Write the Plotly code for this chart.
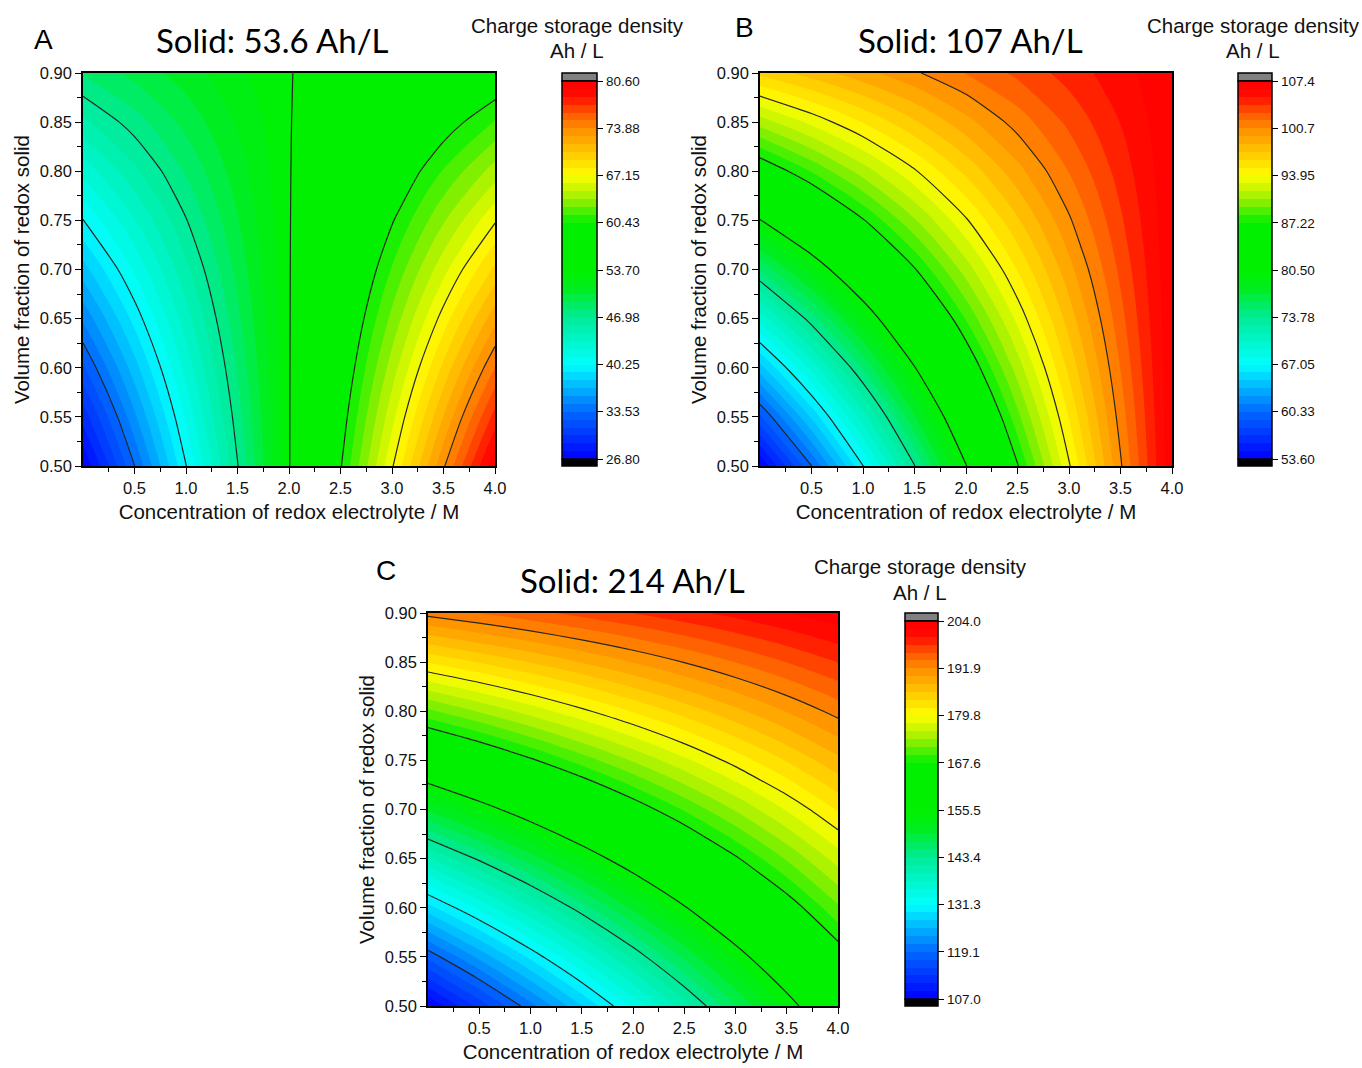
import plotly.graph_objects as go

# ---------------- data ----------------
conc = [0.0, 0.5, 1.0, 1.5, 2.0, 2.5, 3.0, 3.5, 4.0]          # M
vol_frac = [0.50, 0.55, 0.60, 0.65, 0.70, 0.75, 0.80, 0.85, 0.90]

# rows follow vol_frac, columns follow conc  (Ah/L)
density_A = [
    [26.80, 33.50, 40.20, 46.90, 53.60, 60.30, 67.00, 73.70, 80.40],
    [29.48, 35.51, 41.54, 47.57, 53.60, 59.63, 65.66, 71.69, 77.72],
    [32.16, 37.52, 42.88, 48.24, 53.60, 58.96, 64.32, 69.68, 75.04],
    [34.84, 39.53, 44.22, 48.91, 53.60, 58.29, 62.98, 67.67, 72.36],
    [37.52, 41.54, 45.56, 49.58, 53.60, 57.62, 61.64, 65.66, 69.68],
    [40.20, 43.55, 46.90, 50.25, 53.60, 56.95, 60.30, 63.65, 67.00],
    [42.88, 45.56, 48.24, 50.92, 53.60, 56.28, 58.96, 61.64, 64.32],
    [45.56, 47.57, 49.58, 51.59, 53.60, 55.61, 57.62, 59.63, 61.64],
    [48.24, 49.58, 50.92, 52.26, 53.60, 54.94, 56.28, 57.62, 58.96],
]
density_B = [
    [53.60, 60.30, 67.00, 73.70, 80.40, 87.10, 93.80, 100.50, 107.20],
    [58.96, 64.99, 71.02, 77.05, 83.08, 89.11, 95.14, 101.17, 107.20],
    [64.32, 69.68, 75.04, 80.40, 85.76, 91.12, 96.48, 101.84, 107.20],
    [69.68, 74.37, 79.06, 83.75, 88.44, 93.13, 97.82, 102.51, 107.20],
    [75.04, 79.06, 83.08, 87.10, 91.12, 95.14, 99.16, 103.18, 107.20],
    [80.40, 83.75, 87.10, 90.45, 93.80, 97.15, 100.50, 103.85, 107.20],
    [85.76, 88.44, 91.12, 93.80, 96.48, 99.16, 101.84, 104.52, 107.20],
    [91.12, 93.13, 95.14, 97.15, 99.16, 101.17, 103.18, 105.19, 107.20],
    [96.48, 97.82, 99.16, 100.50, 101.84, 103.18, 104.52, 105.86, 107.20],
]
density_C = [
    [107.00, 113.70, 120.40, 127.10, 133.80, 140.50, 147.20, 153.90, 160.60],
    [117.70, 123.73, 129.76, 135.79, 141.82, 147.85, 153.88, 159.91, 165.94],
    [128.40, 133.76, 139.12, 144.48, 149.84, 155.20, 160.56, 165.92, 171.28],
    [139.10, 143.79, 148.48, 153.17, 157.86, 162.55, 167.24, 171.93, 176.62],
    [149.80, 153.82, 157.84, 161.86, 165.88, 169.90, 173.92, 177.94, 181.96],
    [160.50, 163.85, 167.20, 170.55, 173.90, 177.25, 180.60, 183.95, 187.30],
    [171.20, 173.88, 176.56, 179.24, 181.92, 184.60, 187.28, 189.96, 192.64],
    [181.90, 183.91, 185.92, 187.93, 189.94, 191.95, 193.96, 195.97, 197.98],
    [192.60, 193.94, 195.28, 196.62, 197.96, 199.30, 200.64, 201.98, 203.32],
]

cbar_ticks_A = [26.80, 33.53, 40.25, 46.98, 53.70, 60.43, 67.15, 73.88, 80.60]
cbar_labels_A = ["26.80", "33.53", "40.25", "46.98", "53.70", "60.43", "67.15", "73.88", "80.60"]
cbar_ticks_B = [53.60, 60.33, 67.05, 73.78, 80.50, 87.22, 93.95, 100.7, 107.4]
cbar_labels_B = ["53.60", "60.33", "67.05", "73.78", "80.50", "87.22", "93.95", "100.7", "107.4"]
cbar_ticks_C = [107.0, 119.1, 131.3, 143.4, 155.5, 167.6, 179.8, 191.9, 204.0]
cbar_labels_C = ["107.0", "119.1", "131.3", "143.4", "155.5", "167.6", "179.8", "191.9", "204.0"]

x_ticks = [0.5, 1.0, 1.5, 2.0, 2.5, 3.0, 3.5, 4.0]
x_ticklabels = ["0.5", "1.0", "1.5", "2.0", "2.5", "3.0", "3.5", "4.0"]
x_minor = [0.25, 0.75, 1.25, 1.75, 2.25, 2.75, 3.25, 3.75]
y_ticks = [0.50, 0.55, 0.60, 0.65, 0.70, 0.75, 0.80, 0.85, 0.90]
y_ticklabels = ["0.50", "0.55", "0.60", "0.65", "0.70", "0.75", "0.80", "0.85", "0.90"]
y_minor = [0.525, 0.575, 0.625, 0.675, 0.725, 0.775, 0.825, 0.875]

panel_letters = ["A", "B", "C"]
panel_titles = ["Solid: 53.6 Ah/L", "Solid: 107 Ah/L", "Solid: 214 Ah/L"]
cbar_title_lines = ["Charge storage density", "Ah / L"]
x_title = "Concentration of redox electrolyte / M"
y_title = "Volume fraction of redox solid"

# ---------------- layout geometry (pixels) ----------------
W, H = 1362, 1068
def fx(px): return px / W
def fy(py): return 1 - py / H

panels = [
    dict(box=(83, 73, 495, 466), cb=(562, 597), cbt=577, letter=(43, 40), title=(272, 40), cbty=(25, 51)),
    dict(box=(760, 73, 1172, 466), cb=(1238, 1272), cbt=1253, letter=(744, 28), title=(970, 40), cbty=(25, 51)),
    dict(box=(428, 613, 838, 1006), cb=(905, 938), cbt=920, letter=(386, 570), title=(632, 580), cbty=(566, 592)),
]

rainbow = [
    [0.000, "rgb(0,0,255)"],
    [0.125, "rgb(0,105,255)"],
    [0.250, "rgb(0,255,255)"],
    [0.375, "rgb(0,235,150)"],
    [0.450, "rgb(0,238,30)"],
    [0.500, "rgb(0,240,0)"],
    [0.625, "rgb(0,240,0)"],
    [0.690, "rgb(160,240,0)"],
    [0.750, "rgb(255,255,0)"],
    [0.875, "rgb(255,140,0)"],
    [0.920, "rgb(255,80,0)"],
    [0.960, "rgb(255,12,0)"],
    [1.000, "rgb(255,0,0)"],
]

datasets = [density_A, density_B, density_C]
ticksets = [(cbar_ticks_A, cbar_labels_A), (cbar_ticks_B, cbar_labels_B), (cbar_ticks_C, cbar_labels_C)]

fig = go.Figure()
FONT = "Liberation Sans, Arial, sans-serif"
shapes = []
annotations = []

for i, (p, z, (tv, tt)) in enumerate(zip(panels, datasets, ticksets)):
    sfx = "" if i == 0 else str(i + 1)
    l, t, r, b = p["box"]
    zmin, zmax = tv[0], tv[-1]
    major = (zmax - zmin) / 8
    cb_l, cb_r = p["cb"]
    cb_top, cb_bot = t + 8, b - 7
    fig.add_trace(go.Contour(
        x=conc, y=vol_frac, z=z,
        xaxis="x" + sfx, yaxis="y" + sfx,
        colorscale=rainbow, zmin=zmin, zmax=zmax, zauto=False,
        autocontour=False,
        contours=dict(start=zmin, end=zmax, size=major / 6, coloring="fill", showlines=False),
        line=dict(width=0),
        hoverinfo="skip",
        colorbar=dict(
            x=fx(cb_l), xanchor="left", xpad=0, ypad=0,
            y=fy((cb_top + cb_bot) / 2), yanchor="middle",
            lenmode="pixels", len=cb_bot - cb_top,
            thickness=cb_r - cb_l, thicknessmode="pixels",
            outlinecolor="black", outlinewidth=1.5,
            tickvals=tv, ticktext=tt, ticks="outside", ticklen=6,
            tickwidth=1.2, tickcolor="black",
            tickfont=dict(family=FONT, size=13.5, color="#111"),
        ),
    ))
    fig.add_trace(go.Contour(
        x=conc, y=vol_frac, z=z,
        xaxis="x" + sfx, yaxis="y" + sfx,
        autocontour=False,
        contours=dict(start=zmin + major, end=zmax - major / 2, size=major, coloring="none"),
        line=dict(color="#262626", width=1.2, smoothing=0.6),
        showscale=False, hoverinfo="skip",
    ))
    axis_common = dict(showgrid=False, zeroline=False, showline=True, linecolor="black",
                       linewidth=1.5, mirror=True, ticks="outside", tickcolor="black",
                       tickwidth=1.3, ticklen=6, automargin=False)
    fig.update_layout(**{
        "xaxis" + sfx: dict(axis_common, domain=[fx(l), fx(r)], anchor="y" + sfx, range=[0, 4],
                            tickmode="array", tickvals=x_ticks, ticktext=x_ticklabels,
                            tickfont=dict(family=FONT, size=16.5, color="#111"),
                            minor=dict(tickmode="array", tickvals=x_minor, ticks="outside",
                                       ticklen=4, tickwidth=1, tickcolor="black"),
                            title=dict(text=x_title, standoff=9,
                                       font=dict(family=FONT, size=20.5, color="#111"))),
        "yaxis" + sfx: dict(axis_common, domain=[fy(b), fy(t)], anchor="x" + sfx, range=[0.5, 0.9],
                            tickmode="array", tickvals=y_ticks, ticktext=y_ticklabels,
                            tickfont=dict(family=FONT, size=16.5, color="#111"),
                            minor=dict(tickmode="array", tickvals=y_minor, ticks="outside",
                                       ticklen=4, tickwidth=1, tickcolor="black"),
                            title=dict(text=y_title, standoff=5,
                                       font=dict(family=FONT, size=20.5, color="#111"))),
    })
    # colorbar over/under-range caps
    shapes.append(dict(type="rect", xref="paper", yref="paper", x0=fx(cb_l), x1=fx(cb_r),
                       y0=fy(cb_top), y1=fy(t), fillcolor="#808080", line=dict(color="black", width=1.5)))
    shapes.append(dict(type="rect", xref="paper", yref="paper", x0=fx(cb_l), x1=fx(cb_r),
                       y0=fy(b), y1=fy(cb_bot), fillcolor="black", line=dict(color="black", width=1.5)))
    # texts
    annotations.append(dict(text=panel_letters[i], x=fx(p["letter"][0]), y=fy(p["letter"][1]),
                            xref="paper", yref="paper", showarrow=False, xanchor="center", yanchor="middle",
                            font=dict(family=FONT, size=28, color="black")))
    annotations.append(dict(text=panel_titles[i], x=fx(p["title"][0]), y=fy(p["title"][1]),
                            xref="paper", yref="paper", showarrow=False, xanchor="center", yanchor="middle",
                            font=dict(family="Lato, Open Sans, sans-serif", size=33, color="black")))
    for line_text, ly in zip(cbar_title_lines, p["cbty"]):
        annotations.append(dict(text=line_text, x=fx(p["cbt"]), y=fy(ly),
                                xref="paper", yref="paper", showarrow=False, xanchor="center", yanchor="middle",
                                font=dict(family=FONT, size=20.5, color="#111")))

fig.update_layout(
    width=W, height=H,
    margin=dict(l=0, r=0, t=0, b=0, pad=0, autoexpand=False),
    paper_bgcolor="white", plot_bgcolor="white",
    showlegend=False,
    shapes=shapes, annotations=annotations,
)

fig.write_html("out.html", post_script="document.body.style.margin='0';")
